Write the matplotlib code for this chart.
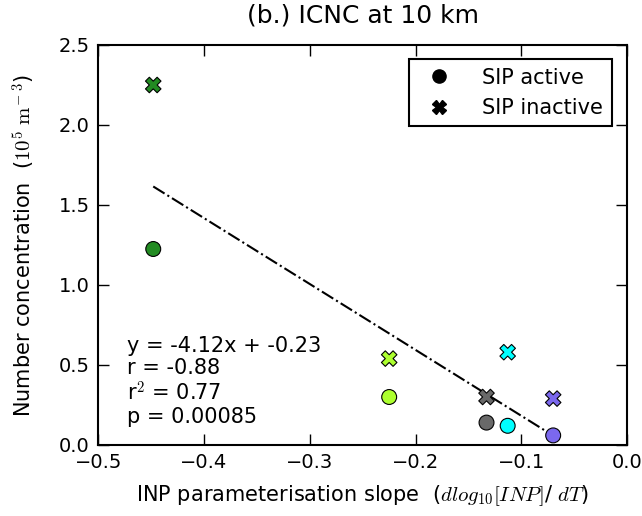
import numpy as np
import matplotlib
matplotlib.use("Agg")
import matplotlib.pyplot as plt
from matplotlib.lines import Line2D

plt.rcParams['font.family'] = ['DejaVu Sans']
plt.rcParams['mathtext.fontset'] = 'cm'

slopes = [-0.448, -0.225, -0.133, -0.113, -0.070]
colors = ['forestgreen', 'greenyellow', 'dimgray', 'cyan', 'mediumslateblue']
sip_active = [1.225, 0.30, 0.14, 0.12, 0.06]
sip_inactive = [2.25, 0.54, 0.30, 0.58, 0.29]
stats_text = "y = -4.12x + -0.23\nr = -0.88\nr$^2$ = 0.77\np = 0.00085"
fit_slope, fit_intercept = -4.12, -0.23

fig = plt.figure(figsize=(6.42, 5.16), dpi=100)
ax = fig.add_axes([0.153, 0.1376, 0.824, 0.7752])

ax.scatter(slopes, sip_active, c=colors, marker='o', s=115, edgecolors='black', linewidths=0.8, zorder=3)
ax.scatter(slopes, sip_inactive, c=colors, marker='X', s=125, edgecolors='black', linewidths=0.8, zorder=3)

xs = np.array([min(slopes), max(slopes)])
ax.plot(xs, fit_slope * xs + fit_intercept, color='black', linestyle='-.', linewidth=1.5, zorder=2)

ax.set_xlim(-0.5, 0.0)
ax.set_ylim(0.0, 2.5)
ax.set_xticks([-0.5, -0.4, -0.3, -0.2, -0.1, 0.0])
ax.set_yticks([0.0, 0.5, 1.0, 1.5, 2.0, 2.5])
ax.tick_params(direction='in', top=True, right=True, length=8, width=1, labelsize=14, pad=6)
for sp in ax.spines.values():
    sp.set_linewidth(1.5)

ax.set_title("(b.) ICNC at 10 km", fontsize=18, pad=16)
ax.set_xlabel(r"INP parameterisation slope  ($dlog_{10}[INP]$/ $dT$)", fontsize=15, labelpad=8)
ax.set_ylabel(r"Number concentration  ($10^5\ \mathrm{m}^{-\;3}$)", fontsize=15, labelpad=15)

ax.text(0.055, 0.272, stats_text, transform=ax.transAxes, fontsize=15, va='top', ha='left', linespacing=1.13)

handles = [Line2D([], [], marker='o', color='black', linestyle='none', markersize=9.5),
           Line2D([], [], marker='X', color='black', linestyle='none', markersize=9.5)]
leg = ax.legend(handles, ['SIP active', 'SIP inactive'], loc='upper right', fontsize=15,
                fancybox=False, edgecolor='black', framealpha=1, handletextpad=1.1,
                bbox_to_anchor=(0.99, 0.99))
leg.get_frame().set_linewidth(1.5)

fig.savefig('out.png', dpi=100)
